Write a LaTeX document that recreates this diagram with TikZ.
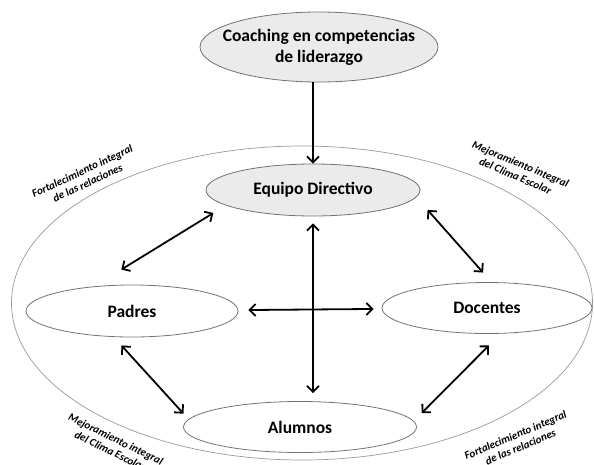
\documentclass[tikz,border=0pt]{standalone}
\usepackage{fontspec}
\setmainfont{Carlito}
\usetikzlibrary{shapes}
\usetikzlibrary{arrows.meta}

\begin{document}
\begin{tikzpicture}[x=1pt, y=-1pt, >={Straight Barb[length=6pt,width=12pt]},
actor/.style={ellipse, draw=black!55, line width=.8pt, inner sep=0},
gris/.style={fill=black!8},
nombre/.style={font=\bfseries\fontsize{17.5}{21}\selectfont, align=center, inner sep=0},
relacion/.style={<->, line width=1.8pt},
lema/.style={font=\bfseries\itshape\fontsize{11}{13}\selectfont, align=center, inner sep=0}]
\useasboundingbox (0,0) rectangle (594,464); %%%%%%% SIZE OF THE PICTURE
%%%%%%%%%%%%%%%%%%%%%%% CLIMA ESCOLAR %%%%%%%%%%%%%%%%%%%%%%%%%%%
\node[ellipse, draw=black!40, line width=.7pt, inner sep=0, minimum width=581pt, minimum height=314pt] (Clima) at (302,303) {};
%%%%%%%%%%%%%%%%%%%%%%% ACTORES %%%%%%%%%%%%%%%%%%%%%%%%%%%
\node[actor, gris, minimum width=238pt, minimum height=70pt, label={[nombre]center:Coaching en competencias\\de liderazgo}] (Coaching) at (319,47) {};
\node[actor, gris, minimum width=214pt, minimum height=52pt, label={[nombre]center:Equipo Directivo}] (Equipo) at (313,190) {};
\node[actor, minimum width=212pt, minimum height=52pt, label={[nombre]center:Padres}] (Padres) at (132,311) {};
\node[actor, minimum width=210pt, minimum height=51pt, label={[nombre]center:Docentes}] (Docentes) at (487,308) {};
\node[actor, minimum width=233pt, minimum height=51pt, label={[nombre]center:Alumnos}] (Alumnos) at (300,427) {};
%%%%%%%% FLECHAS %%%%%%%%%%%%%
\draw[->, line width=1.8pt] (Equipo.north |- Coaching.south) -- (Equipo.north);
\draw[relacion, shorten <=14.5pt, shorten >=32pt] (Equipo.190) -- (Padres.147);
\draw[relacion, shorten <=17pt, shorten >=12.8pt] (Equipo.356) -- (Docentes.80);
\draw[relacion, shorten <=10pt, shorten >=8pt] (Padres) -- (Docentes);
\draw[relacion, shorten <=7pt, shorten >=8pt] (Equipo.south) -- (Equipo.south |- Alumnos.north);
\draw[relacion, shorten <=11.4pt, shorten >=7.5pt] (Padres.235) -- (Alumnos.176);
\draw[relacion, shorten <=16.6pt, shorten >=11pt] (Docentes.298) -- (Alumnos.3);
%%%%%%%% LEMAS %%%%%%%%%%%%%
\node[lema, rotate=25] (LemaA) at (85,177) {Fortalecimiento integral\\de las relaciones};
\node[lema, rotate=-23] (LemaB) at (518,170) {Mejoramiento integral\\del Clima Escolar};
\node[lema, rotate=-26] (LemaC) at (113,445) {Mejoramiento integral\\del Clima Escolar};
\node[lema, rotate=23] (LemaD) at (518,441) {Fortalecimiento integral\\de las relaciones};
\end{tikzpicture}
\end{document}
